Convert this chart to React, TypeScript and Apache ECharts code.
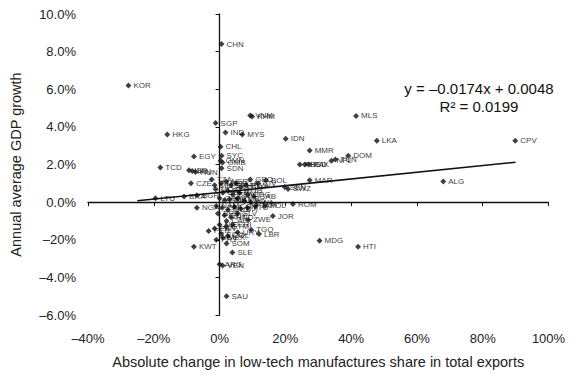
import React, { useEffect, useRef } from "react";
import * as echarts from "echarts";

// Country points: x = absolute change in low-tech share (%), y = GDP growth (%)
const pointLabels = [
  "CHN", "KOR", "VNM", "KHM", "SGP", "HKG", "IND", "MYS", "IDN", "MLS",
  "LKA", "CPV", "ALG", "MMR", "DOM", "NPL", "TUN", "PHL", "BGD", "PAK",
  "MAR", "SEN", "SWZ", "BOL", "CIV", "GEO", "CHL", "EGY", "SYC", "OMN",
  "GMB", "SDN", "TCD", "ISR", "IRN", "HUN", "CZE", "TZA", "MOZ", "LTU",
  "BRA", "BGR", "NGA", "ROM", "POL", "JOR", "ZWE", "TGO", "CAF", "PER",
  "KWT", "SOM", "SLE", "ARG", "VEN", "SAU", "MDG", "HTI",
];
const pointX = [
  0.6, -27.7, 9.3, 9.9, -1.2, -15.9, 1.8, 6.9, 20.1, 41.5,
  47.8, 89.9, 68.0, 27.4, 39.1, 34.0, 35.2, 24.4, 25.9, 27.1,
  27.4, 19.8, 20.8, 14.1, 11.7, 9.3, 0.3, -7.8, 0.6, 0.3,
  0.9, 0.6, -18.0, -9.3, -8.3, -7.3, -8.7, -2.4, -1.2, -19.5,
  -10.8, -6.9, -6.9, 22.3, 13.8, 16.2, 8.7, 9.6, 2.1, -3.3,
  -7.8, 2.1, 3.9, 0.0, 0.9, 2.1, 30.4, 42.1,
];
const pointY = [
  8.4, 6.2, 4.6, 4.55, 4.2, 3.6, 3.7, 3.6, 3.37, 4.58,
  3.26, 3.26, 1.1, 2.74, 2.47, 2.2, 2.26, 2.0, 2.0, 2.0,
  1.16, 0.8, 0.7, 1.16, 1.0, 1.2, 2.95, 2.42, 2.47, 2.2,
  2.1, 1.8, 1.84, 1.7, 1.65, 1.6, 1.0, 1.2, 0.68, 0.2,
  0.3, 0.37, -0.3, -0.1, -0.2, -0.74, -0.95, -1.47, -1.0, -1.53,
  -2.37, -2.2, -2.68, -3.3, -3.37, -5.0, -2.05, -2.37,
];

// Dense cluster around the origin
const clusterLabels = [
  "MLI", "MWI", "NER", "ETH", "UGA", "KEN", "RWA", "BDI", "BEN", "BFA",
  "CMR", "COG", "GAB", "GIN", "GNB", "MRT", "ZMB", "LSO", "BWA", "NAM",
  "ZAF", "MUS", "COM", "DJI", "TTO", "JAM", "BRB", "GUY", "HND", "SLV",
  "NIC", "GTM", "CRI", "PAN", "ECU", "COL", "URY", "PRY", "MEX", "LBR",
];
const clusterX = [
  -1.5, 0.5, 2.0, 3.5, 5.0, 6.5, 8.0, 1.0, 2.5, 4.0,
  6.0, 8.5, 10.5, 0.0, 1.5, 3.0, 5.5, 7.5, 9.5, -1.0,
  0.8, 2.5, 4.5, 6.5, 8.5, 11.0, -0.5, 1.5, 3.5, 5.5,
  0.0, 2.0, 4.0, -1.5, 0.5, 2.5, 5.5, -1.0, 1.0, 12.0,
];
const clusterY = [
  0.9, 1.0, 1.1, 0.9, 1.0, 0.8, 0.9, 0.5, 0.6, 0.4,
  0.5, 0.4, 0.3, 0.2, 0.1, 0.15, 0.2, 0.05, 0.0, -0.2,
  -0.3, -0.4, -0.25, -0.35, -0.3, -0.2, -0.6, -0.7, -0.8, -0.6,
  -1.2, -1.3, -1.2, -1.4, -1.7, -1.8, -1.6, -2.0, -1.9, -1.7,
];

// Trend line end points
const trendX = [-25, 90];
const trendY = [0.07, 2.12];

const xTickValues = [-40, -20, 0, 20, 40, 60, 80, 100];
const xTickLabels = ["–40%", "–20%", "0%", "20%", "40%", "60%", "80%", "100%"];
const yTickValues = [-6, -4, -2, 0, 2, 4, 6, 8, 10];
const yTickLabels = ["–6.0%", "–4.0%", "–20%", "0.0%", "2.0%", "4.0%", "6.0%", "8.0%", "10.0%"];

const FONT = "Liberation Sans, Arial, sans-serif";

function fmt(values: number[], labels: string[]) {
  return (v: number) => {
    const i = values.findIndex((t) => Math.abs(t - v) < 1e-6);
    return i >= 0 ? labels[i] : "";
  };
}

export default function App() {
  const ref = useRef<HTMLDivElement>(null);
  useEffect(() => {
    if (!ref.current) return;
    const chart = echarts.init(ref.current, null, { renderer: "svg" });
    const pts = pointLabels.map((l, i) => [pointX[i], pointY[i], l]);
    const cl = clusterLabels.map((l, i) => [clusterX[i], clusterY[i], l]);
    const labelStyle = {
      show: true,
      position: "right" as const,
      distance: 2,
      fontSize: 8,
      fontFamily: FONT,
      color: "#000",
      formatter: (p: any) => p.data[2],
    };
    chart.setOption({
      animation: false,
      backgroundColor: "#fff",
      grid: { left: 83, right: 38.5, top: 14, bottom: 56 },
      xAxis: [
        {
          type: "value", min: -40, max: 100, interval: 20,
          axisLine: { show: true, onZero: true, onZeroAxisIndex: 0, lineStyle: { color: "#111", width: 1.3 } },
          axisTick: { show: true, length: 4, lineStyle: { color: "#111" } },
          axisLabel: { show: false },
          splitLine: { show: false },
        },
        {
          type: "value", min: -40, max: 100, interval: 20, position: "bottom",
          axisLine: { show: false, onZero: false },
          axisTick: { show: false },
          splitLine: { show: false },
          axisLabel: { show: true, margin: 17, fontSize: 13, fontFamily: FONT, color: "#222", formatter: fmt(xTickValues, xTickLabels) },
          name: "Absolute change in low-tech manufactures share in total exports",
          nameLocation: "middle", nameGap: 39,
          nameTextStyle: { fontSize: 14.5, fontFamily: FONT, color: "#222" },
        },
      ],
      yAxis: [
        {
          type: "value", min: -6, max: 10, interval: 2,
          axisLine: { show: true, onZero: true, onZeroAxisIndex: 0, lineStyle: { color: "#111", width: 1.3 } },
          axisTick: { show: true, length: 4, lineStyle: { color: "#111" } },
          axisLabel: { show: false },
          splitLine: { show: false },
        },
        {
          type: "value", min: -6, max: 10, interval: 2, position: "left",
          axisLine: { show: false, onZero: false },
          axisTick: { show: false },
          splitLine: { show: false },
          axisLabel: { show: true, margin: 12, fontSize: 13, fontFamily: FONT, color: "#222", formatter: fmt(yTickValues, yTickLabels) },
          name: "Annual average GDP growth",
          nameLocation: "middle", nameGap: 65,
          nameTextStyle: { fontSize: 14.5, fontFamily: FONT, color: "#222" },
        },
      ],
      series: [
        {
          type: "line", xAxisIndex: 0, yAxisIndex: 0,
          data: trendX.map((x, i) => [x, trendY[i]]),
          showSymbol: false, symbol: "none",
          lineStyle: { color: "#111", width: 1.6 },
          z: 3,
        },
        {
          type: "scatter", xAxisIndex: 0, yAxisIndex: 0,
          data: cl, symbol: "diamond", symbolSize: 6,
          itemStyle: { color: "#111" }, label: labelStyle, z: 4,
        },
        {
          type: "scatter", xAxisIndex: 0, yAxisIndex: 0,
          data: pts, symbol: "diamond", symbolSize: 6,
          itemStyle: { color: "#111" }, label: labelStyle, z: 5,
        },
      ],
      graphic: [
        { type: "text", x: 479, y: 88, style: { text: "y = –0.0174x + 0.0048", fontSize: 15, fontFamily: FONT, fill: "#111", align: "center", verticalAlign: "middle" } },
        { type: "text", x: 479, y: 106, style: { text: "R² = 0.0199", fontSize: 15, fontFamily: FONT, fill: "#111", align: "center", verticalAlign: "middle" } },
      ],
    });
    return () => chart.dispose();
  }, []);
  return <div ref={ref} style={{ width: 587, height: 374, position: "absolute", left: 0, top: 0 }} />;
}
